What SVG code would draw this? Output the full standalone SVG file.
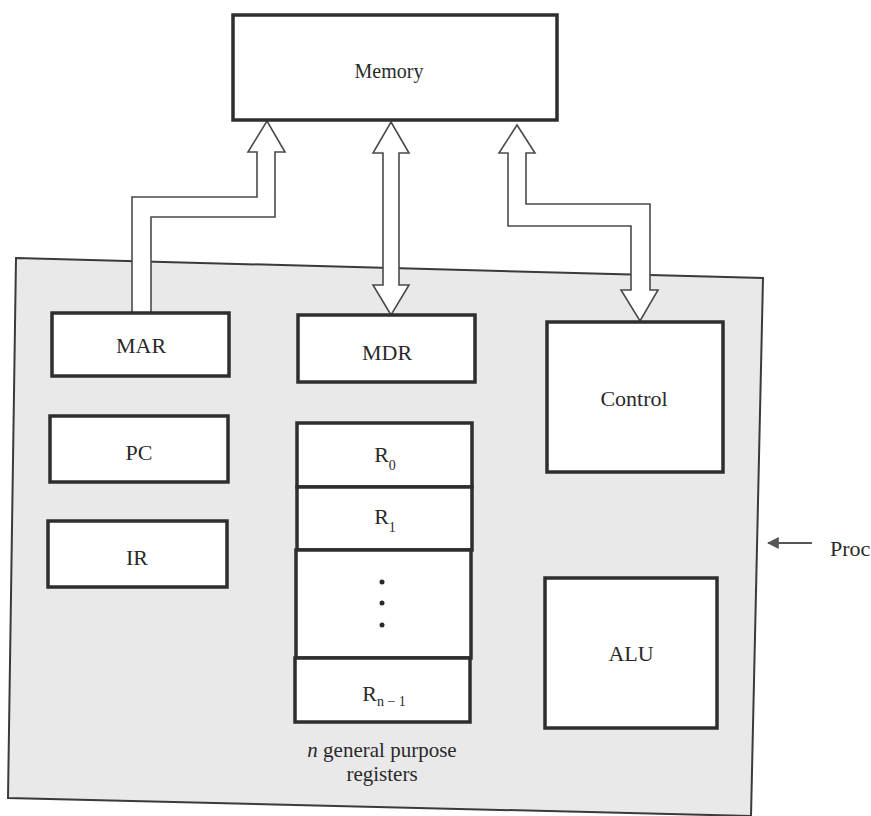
<svg xmlns="http://www.w3.org/2000/svg" width="871" height="816" viewBox="0 0 871 816">
<defs>
<style>
.box{fill:#ffffff;stroke:#2e2e2e;stroke-width:3.5}
.proc{fill:#e9e9ea;stroke:#3a3a3a;stroke-width:2}
.bus{fill:#ffffff;stroke:#4a4a4a;stroke-width:1.6;stroke-linejoin:miter}
text{font-family:'Liberation Serif','DejaVu Serif',serif;font-size:22px;fill:#2a2a2a;text-anchor:middle}
.sub{font-size:14px}
.thin{stroke:#555555;stroke-width:2;fill:none}
</style>
<marker id="ah" viewBox="0 0 10 10" refX="9" refY="5" markerWidth="6" markerHeight="6" orient="auto">
<path d="M0,0 L10,5 L0,10 z" fill="#555555"/>
</marker>
</defs>
<rect x="0" y="0" width="871" height="816" fill="#ffffff"/>

<g id="processor">
<polygon class="proc" points="16,258 763,278 751,816 8,798"/>
</g>

<g id="connectors">
<polygon class="bus" points="132,313 132,197 257,197 257,152 248,152 267,121 285,152 275,152 275,217 151,217 151,313"/>
<polygon class="bus" points="391,122 409,153 399,153 399,285 409,285 391,315 373,285 383,285 383,153 373,153"/>
<polygon class="bus" points="517,125 535,153 526,153 526,204 650,204 650,290 658,290 640,321 621,290 631,290 631,226 508,226 508,153 499,153"/>
<line class="thin" x1="812" y1="543" x2="768" y2="543" marker-end="url(#ah)"/>
</g>

<g id="memory">
<rect class="box" x="233" y="15" width="324" height="105"/>
<text x="389" y="78" font-family="Liberation Serif, serif" style="font-size:20px">Memory</text>
</g>

<g id="mar">
<rect class="box" x="52" y="313" width="177" height="63"/>
<text x="141" y="353" font-family="Liberation Serif, serif">MAR</text>
</g>

<g id="pc">
<rect class="box" x="50" y="416" width="178" height="66"/>
<text x="139" y="460" font-family="Liberation Serif, serif">PC</text>
</g>

<g id="ir">
<rect class="box" x="48" y="521" width="179" height="66"/>
<text x="137" y="565" font-family="Liberation Serif, serif">IR</text>
</g>

<g id="mdr">
<rect class="box" x="298" y="315" width="177" height="67"/>
<text x="387" y="360" font-family="Liberation Serif, serif">MDR</text>
</g>

<g id="r0">
<rect class="box" x="297" y="423" width="175" height="64"/>
<text x="385" y="462" font-family="Liberation Serif, serif">R<tspan class="sub" dy="8">0</tspan></text>
</g>

<g id="r1">
<rect class="box" x="297" y="487" width="175" height="63"/>
<text x="385" y="524" font-family="Liberation Serif, serif">R<tspan class="sub" dy="8">1</tspan></text>
</g>

<g id="rdots">
<rect class="box" x="296" y="550" width="175" height="108"/>
<circle cx="382" cy="582" r="2.5" fill="#2a2a2a"/>
<circle cx="382" cy="603" r="2.5" fill="#2a2a2a"/>
<circle cx="382" cy="625" r="2.5" fill="#2a2a2a"/>
</g>

<g id="rn1">
<rect class="box" x="295" y="658" width="175" height="64"/>
<text x="384" y="701" font-family="Liberation Serif, serif">R<tspan class="sub" dy="5">n − 1</tspan></text>
</g>

<g id="regs-label">
<text x="382" y="757" font-family="Liberation Serif, serif" style="font-size:21px"><tspan font-style="italic">n</tspan> general purpose</text>
<text x="382" y="781" font-family="Liberation Serif, serif" style="font-size:21px">registers</text>
</g>

<g id="control">
<rect class="box" x="547" y="322" width="176" height="150"/>
<text x="634" y="406" font-family="Liberation Serif, serif">Control</text>
</g>

<g id="alu">
<rect class="box" x="545" y="578" width="172" height="150"/>
<text x="631" y="661" font-family="Liberation Serif, serif">ALU</text>
</g>

<g id="proc-label">
<text x="830" y="556" font-family="Liberation Serif, serif" style="text-anchor:start">Proc</text>
</g>
</svg>
